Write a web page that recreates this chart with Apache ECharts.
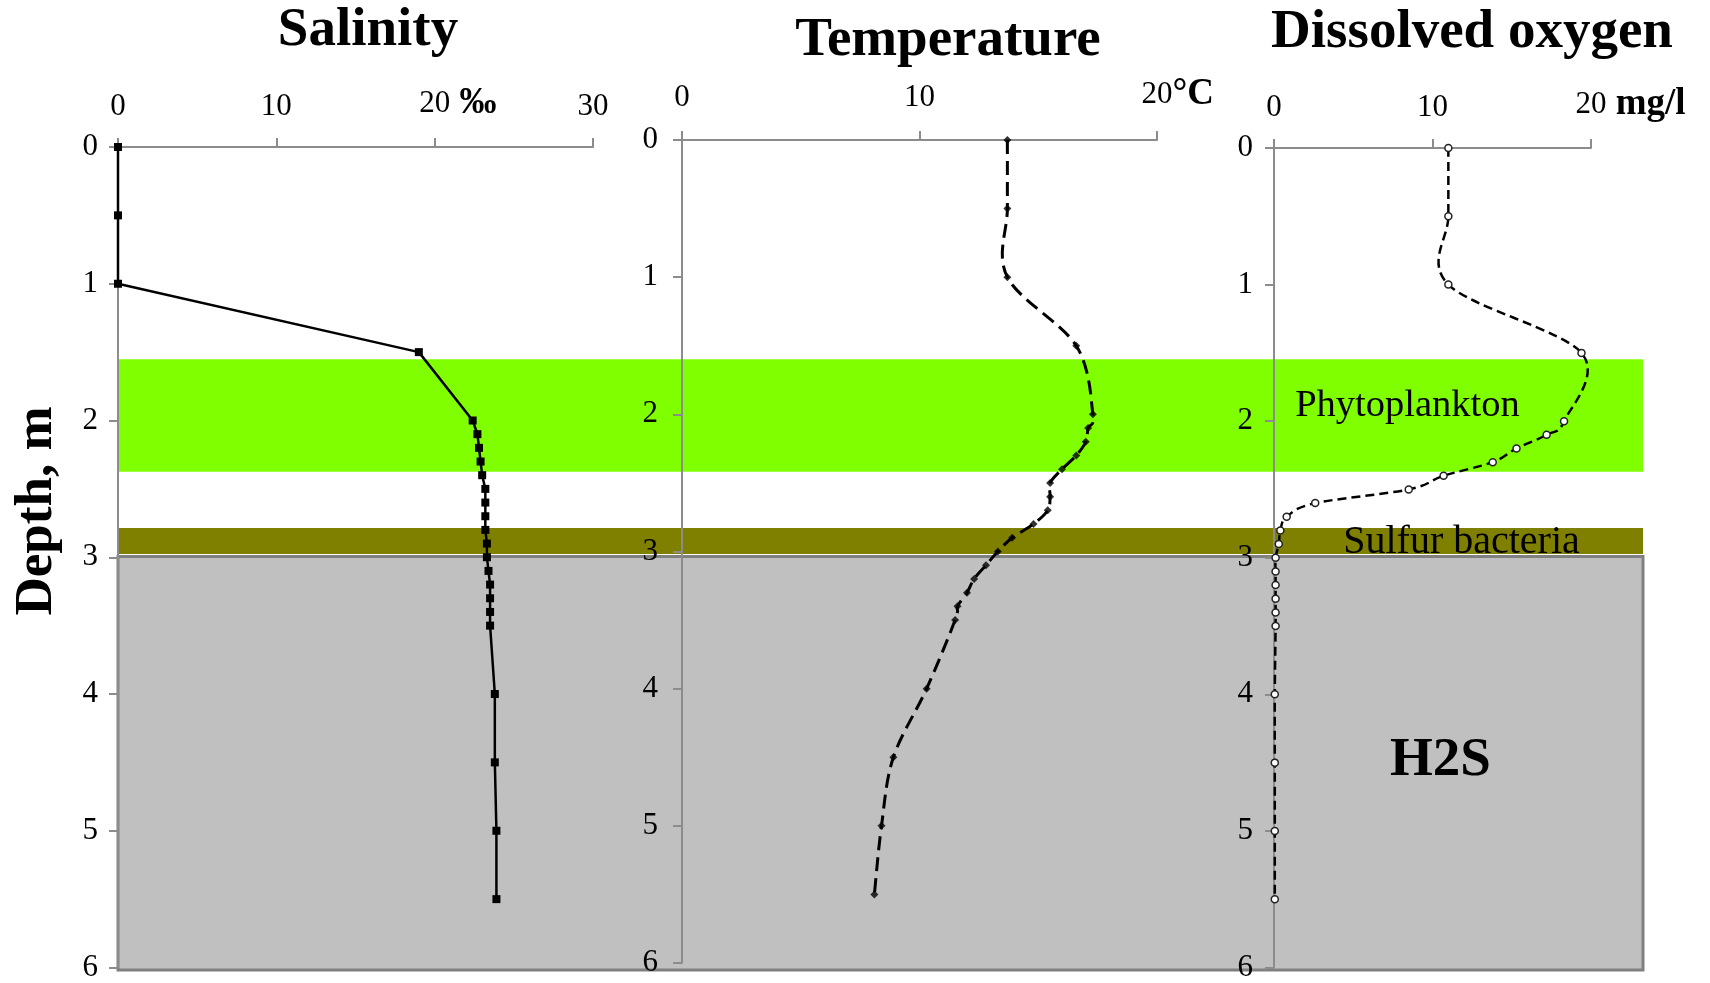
<!DOCTYPE html>
<html>
<head>
<meta charset="utf-8">
<script src="https://cdn.jsdelivr.net/npm/echarts@6/dist/echarts.min.js"></script>
<style>
html,body{margin:0;padding:0;background:#fff;}
#chart{width:1710px;height:983px;}
</style>
</head>
<body>
<div id="chart"></div>
<script>
// ---------- DATA ----------
const depths = [0, 0.5, 1, 1.5, 2.0, 2.1, 2.2, 2.3, 2.4, 2.5, 2.6, 2.7, 2.8, 2.9, 3.0, 3.1, 3.2, 3.3, 3.4, 3.5, 4, 4.5, 5, 5.5];
const salinity = [0, 0, 0, 19.0, 22.4, 22.7, 22.8, 22.9, 23.0, 23.2, 23.2, 23.2, 23.2, 23.3, 23.3, 23.4, 23.5, 23.5, 23.5, 23.5, 23.8, 23.8, 23.9, 23.9];
const temperature = [13.7, 13.7, 13.7, 16.6, 17.3, 17.1, 17.0, 16.6, 16.0, 15.5, 15.5, 15.4, 14.8, 13.9, 13.3, 12.8, 12.3, 12.0, 11.6, 11.5, 10.3, 8.9, 8.4, 8.1];
const oxygen = [11.0, 11.0, 11.0, 19.4, 18.3, 17.2, 15.3, 13.8, 10.7, 8.5, 2.6, 0.8, 0.4, 0.3, 0.1, 0.1, 0.1, 0.1, 0.1, 0.1, 0.05, 0.05, 0.05, 0.05];

const panelTitles = ['Salinity', 'Temperature', 'Dissolved oxygen'];
const xMax = [30, 20, 20];
const xUnitTick = [20, 20, 20];
const xUnits = [' ‰', '°C', ' mg/l'];
const depthTicks = [0, 1, 2, 3, 4, 5, 6];
const yAxisTitle = 'Depth, m';

const bandNames = ['Phytoplankton', 'Sulfur bacteria', 'H2S'];
const bandTop = [1.547, 2.778, 2.985];
const bandBottom = [2.367, 2.967, 6.03];

// ---------- STYLE / LAYOUT ----------
const FONT = "'Liberation Serif','Times New Roman',serif";
const AXIS_COLOR = '#8c8c8c';
const grids = [
  {left: 118, top: 147, width: 475, height: 823},
  {left: 682, top: 140, width: 475, height: 823},
  {left: 1274, top: 148, width: 317, height: 823},
  {left: 118, top: 147, width: 1525, height: 823}
];
const xLabelMargin = [25, 27, 25];
const yLabelMargin = [20, 24, 21];
const titlePos = [[368, 30.5], [948, 40.5], [1472, 32.5]];

const bandStyles = [
  {color: '#80ff00'},
  {color: '#808000'},
  {color: '#c0c0c0', borderColor: '#808080', borderWidth: 3}
];
const bandLabelOffset = [[527, -10], [581, 1], [560, -2]];
const bandLabelStyle = [
  {fontSize: 38.5, fontWeight: 'normal'},
  {fontSize: 40, fontWeight: 'normal'},
  {fontSize: 55, fontWeight: 'bold'}
];

const richStyles = {
  n: {fontFamily: FONT, fontSize: 31, color: '#000'},
  u: {fontFamily: FONT, fontSize: 37, fontWeight: 'bold', color: '#000'},
  g: {fontFamily: FONT, fontSize: 37, fontWeight: 'bold', color: 'rgba(0,0,0,0)'}
};

const xAxes = [0, 1, 2].map(i => ({
  gridIndex: i, type: 'value', position: 'top', min: 0, max: xMax[i], interval: 10, z: 3,
  axisLine: {show: true, onZero: false, lineStyle: {color: AXIS_COLOR, width: 2}},
  axisTick: {show: true, length: 9, lineStyle: {color: AXIS_COLOR, width: 2}},
  splitLine: {show: false},
  axisLabel: {
    margin: xLabelMargin[i], rich: richStyles,
    formatter: v => v === xUnitTick[i]
      ? '{g|' + xUnits[i] + '}{n|' + v + '}{u|' + xUnits[i] + '}'
      : '{n|' + v + '}'
  }
}));
xAxes.push({gridIndex: 3, type: 'value', min: 0, max: 1, show: false});

const yAxes = [0, 1, 2].map(i => ({
  gridIndex: i, type: 'value', inverse: true, min: depthTicks[0], max: depthTicks[depthTicks.length - 1], interval: 1, z: 3,
  axisLine: {show: true, onZero: false, lineStyle: {color: AXIS_COLOR, width: 2}},
  axisTick: {show: true, length: 9, lineStyle: {color: AXIS_COLOR, width: 2}},
  splitLine: {show: false},
  axisLabel: {margin: yLabelMargin[i], fontFamily: FONT, fontSize: 31, color: '#000'}
}));
yAxes.push({gridIndex: 3, type: 'value', inverse: true, min: 0, max: 6, show: false});

const pair = vals => depths.map((d, k) => [vals[k], d]);

// Excel-like smoothed curve (Catmull-Rom bezier) through the data points, placed with the axes' scales
function smoothPath(api, vals) {
  const pts = depths.map((d, k) => api.coord([vals[k], d]));
  let s = 'M' + pts[0][0] + ' ' + pts[0][1];
  for (let i = 0; i < pts.length - 1; i++) {
    const p0 = pts[Math.max(i - 1, 0)], p1 = pts[i], p2 = pts[i + 1], p3 = pts[Math.min(i + 2, pts.length - 1)];
    const c1 = [p1[0] + (p2[0] - p0[0]) / 6, p1[1] + (p2[1] - p0[1]) / 6];
    const c2 = [p2[0] - (p3[0] - p1[0]) / 6, p2[1] - (p3[1] - p1[1]) / 6];
    s += ' C' + c1[0] + ' ' + c1[1] + ' ' + c2[0] + ' ' + c2[1] + ' ' + p2[0] + ' ' + p2[1];
  }
  return s;
}
function curveSeries(idx, vals, width, dash) {
  return {
    type: 'custom', xAxisIndex: idx, yAxisIndex: idx, z: 4, silent: true,
    data: [[vals[0], depths[0]]],
    renderItem: (params, api) => ({
      type: 'path',
      shape: {pathData: smoothPath(api, vals)},
      style: {stroke: '#000', fill: 'none', lineWidth: width, lineDash: dash}
    })
  };
}

const series = [
  {
    name: 'bands', type: 'line', xAxisIndex: 3, yAxisIndex: 3, z: 1,
    data: [[0, 0]], showSymbol: false, lineStyle: {opacity: 0}, silent: true,
    markArea: {
      silent: true,
      data: bandNames.map((nm, i) => [
        {name: nm, xAxis: 0, yAxis: bandTop[i], itemStyle: Object.assign({opacity: 1}, bandStyles[i]),
         label: Object.assign({show: true, position: 'inside', offset: bandLabelOffset[i], fontFamily: FONT, color: '#000'}, bandLabelStyle[i])},
        {xAxis: 1, yAxis: bandBottom[i]}
      ])
    }
  },
  {
    name: panelTitles[0], type: 'line', xAxisIndex: 0, yAxisIndex: 0, z: 5,
    data: pair(salinity), symbol: 'rect', symbolSize: 8,
    itemStyle: {color: '#000'}, lineStyle: {color: '#000', width: 2.5}
  },
  curveSeries(1, temperature, 3, [14, 7]),
  {
    name: panelTitles[1], type: 'scatter', xAxisIndex: 1, yAxisIndex: 1, z: 5,
    data: pair(temperature), symbol: 'diamond', symbolSize: 8,
    itemStyle: {color: '#000'}
  },
  curveSeries(2, oxygen, 2.5, [9, 5]),
  {
    name: panelTitles[2], type: 'scatter', xAxisIndex: 2, yAxisIndex: 2, z: 5,
    data: pair(oxygen), symbol: 'circle', symbolSize: 7,
    itemStyle: {color: '#fff', borderColor: '#222', borderWidth: 1.5, opacity: 1}
  }
];

const graphics = panelTitles.map((t, i) => ({
  type: 'text', x: titlePos[i][0], y: titlePos[i][1], z: 10,
  style: {text: t, font: 'bold 55px ' + FONT, fill: '#000', textAlign: 'center', textVerticalAlign: 'middle'}
}));
graphics.push({
  type: 'text', x: 37, y: 511, rotation: Math.PI / 2, z: 10,
  style: {text: yAxisTitle, font: 'bold 53px ' + FONT, fill: '#000', textAlign: 'center', textVerticalAlign: 'middle'}
});

const chart = echarts.init(document.getElementById('chart'), null, {renderer: 'canvas'});
chart.setOption({
  animation: false,
  backgroundColor: '#fff',
  grid: grids,
  xAxis: xAxes,
  yAxis: yAxes,
  series: series,
  graphic: graphics
});
</script>
</body>
</html>
